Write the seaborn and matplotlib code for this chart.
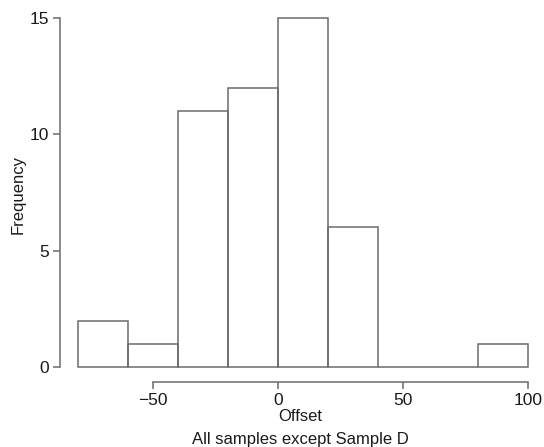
import numpy as np
import pandas as pd
import seaborn as sns
from matplotlib import pyplot as plt

# histogram bins (Offset) and counts
bin_edges = [-80, -60, -40, -20, 0, 20, 40, 60, 80, 100]
counts = [2, 1, 11, 12, 15, 6, 0, 0, 1]
x_ticks = [-50, 0, 50, 100]
y_ticks = [0, 5, 10, 15]

centers = [(a + b) / 2 for a, b in zip(bin_edges[:-1], bin_edges[1:])]
df = pd.DataFrame({'Offset': centers, 'n': counts})

sns.set_theme(style='white')
plt.rcParams['font.family'] = ['Liberation Sans', 'DejaVu Sans']

grey = '#6b6b6b'
txt = '#1a1a1a'
fig = plt.figure(figsize=(5.44, 4.47), dpi=100)
ax = fig.add_axes([0.1103, 0.1461, 0.8833, 0.8396])

sns.histplot(data=df, x='Offset', weights='n', bins=bin_edges, fill=False,
             element='bars', color=grey, linewidth=1.1, ax=ax)

ax.set_xlim(-87.2, 105)
ax.set_ylim(-0.63, 15.5)
ax.set_xticks(x_ticks)
ax.set_yticks(y_ticks)
ax.set_xticklabels([str(v).replace('-', '\u2212') for v in x_ticks])
ax.set_yticklabels([str(v) for v in y_ticks])

for s in ['top', 'right']:
    ax.spines[s].set_visible(False)
ax.spines['left'].set_bounds(0, 15)
ax.spines['bottom'].set_bounds(-50, 100)
for s in ['left', 'bottom']:
    ax.spines[s].set_color(grey)
    ax.spines[s].set_linewidth(1.1)

ax.tick_params(axis='both', direction='out', length=5, width=1.1, color=grey,
               labelsize=12.5, labelcolor=txt, pad=3, bottom=True, left=True)

ax.set_ylabel('Frequency', fontsize=12, color=txt, labelpad=3)
ax.set_xlabel('Offset\nAll samples except Sample D', fontsize=12, color=txt,
              labelpad=1, linespacing=1.68)

plt.savefig('out.png', dpi=100)
